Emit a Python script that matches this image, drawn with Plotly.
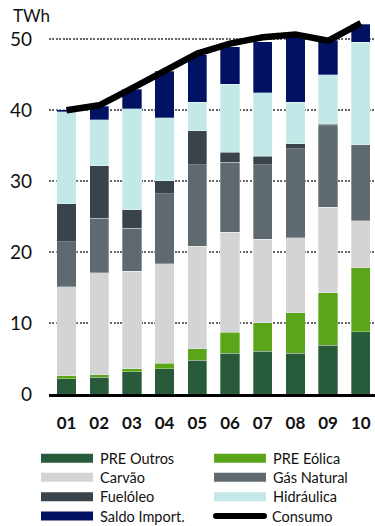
import plotly.graph_objects as go

# Electricity supply by source, TWh (stacked bottom to top)
years = ["01", "02", "03", "04", "05", "06", "07", "08", "09", "10"]
pre_outros = [2.15, 2.35, 3.15, 3.55, 4.75, 5.75, 6.0, 5.75, 6.85, 8.8]
pre_eolica = [0.45, 0.35, 0.4, 0.8, 1.65, 2.95, 4.05, 5.7, 7.45, 9.0]
carvao = [12.55, 14.4, 13.75, 14.0, 14.4, 14.1, 11.75, 10.55, 12.0, 6.6]
gas_natural = [6.3, 7.7, 6.1, 9.85, 11.5, 9.9, 10.5, 12.55, 11.5, 10.75]
fueloleo = [5.35, 7.4, 2.55, 1.9, 4.8, 1.4, 1.2, 0.7, 0.25, 0.0]
hidraulica = [13.0, 6.5, 14.25, 8.85, 4.0, 9.6, 9.0, 5.85, 6.95, 14.45]
saldo_import = [0.3, 1.9, 2.8, 6.55, 6.7, 5.25, 7.2, 9.75, 4.9, 2.55]
consumo = [40.0, 40.7, 43.1, 45.6, 48.0, 49.4, 50.3, 50.7, 49.8, 52.3]

labels = ["PRE Outros", "PRE Eólica", "Carvão", "Gás Natural",
          "Fuelóleo", "Hidráulica", "Saldo Import.", "Consumo"]
series = [pre_outros, pre_eolica, carvao, gas_natural,
          fueloleo, hidraulica, saldo_import]
colors = ["#285B39", "#5BA51A", "#D3D4D3", "#5E6970",
          "#38434B", "#C3E8E8", "#021263", "#000000"]

FONT = "Lato, 'Open Sans', sans-serif"
W, H = 375, 526
ML, MR, MT, MB = 49, 0, 11, 132

fig = go.Figure()
for name, vals, col in zip(labels[:-1], series, colors[:-1]):
    fig.add_trace(go.Bar(
        x=years, y=vals, name=name, marker_color=col,
        marker_line=dict(width=0.7, color="rgba(255,255,255,0.45)"),
        showlegend=False,
    ))
fig.add_trace(go.Scatter(
    x=years, y=consumo, name="Consumo", mode="lines",
    line=dict(color="black", width=6.5), showlegend=False,
))

# pixel -> paper coordinate helpers for the hand-built legend
pw, ph = W - ML - MR, H - MT - MB


def px(x):
    return (x - ML) / pw


def py(y):
    return (H - MB - y) / ph


shapes = []
annotations = []
col_x = [41, 214]
row_y = [458.3, 477.3, 496.7, 516.0]
sw_w, sw_h = 52, 9
for i, (name, col) in enumerate(zip(labels, colors)):
    c, r = i % 2, i // 2
    x0, yc = col_x[c], row_y[r]
    if name == "Consumo":
        x0, x1 = x0 - 1, x0 + sw_w + 1
        shapes.append(dict(type="line", xref="paper", yref="paper",
                           x0=px(x0 + 3), x1=px(x1 - 3), y0=py(yc), y1=py(yc),
                           line=dict(color=col, width=6)))
        for xe in (x0 + 3, x1 - 3):
            shapes.append(dict(type="circle", xref="paper", yref="paper",
                               x0=px(xe - 3), x1=px(xe + 3),
                               y0=py(yc + 3), y1=py(yc - 3),
                               fillcolor=col, line=dict(width=0)))
    else:
        shapes.append(dict(type="rect", xref="paper", yref="paper",
                           x0=px(x0), x1=px(x0 + sw_w),
                           y0=py(yc + sw_h / 2), y1=py(yc - sw_h / 2),
                           fillcolor=col, line=dict(width=0)))
    annotations.append(dict(text=name, xref="paper", yref="paper",
                            x=px(x0 + sw_w + 5), y=py(yc), xanchor="left",
                            yanchor="middle", showarrow=False,
                            font=dict(family=FONT, size=14.5, color="#111111")))

annotations.append(dict(text="TWh", xref="paper", yref="paper",
                        x=px(11), y=py(15.5), xanchor="left", yanchor="middle",
                        showarrow=False,
                        font=dict(family=FONT, size=17, color="#111111")))

fig.update_layout(
    width=W, height=H,
    margin=dict(l=ML, r=MR, t=MT, b=MB, pad=0),
    barmode="stack", bargap=0.41,
    plot_bgcolor="white", paper_bgcolor="white",
    font=dict(family=FONT, color="#111111"),
    shapes=shapes, annotations=annotations,
    xaxis=dict(
        type="category", range=[-0.535, 9.434],
        showgrid=False, showline=True, linecolor="black", linewidth=3,
        ticks="", ticklabelstandoff=12,
        tickfont=dict(family=FONT, size=17, color="#111111", weight="bold"),
    ),
    yaxis=dict(
        range=[0, 54], tickvals=[0, 10, 20, 30, 40, 50],
        showgrid=True, gridcolor="#666666", gridwidth=2.2, griddash="2px,1.4px",
        zeroline=False, showline=False, ticks="", ticklabelstandoff=16,
        tickfont=dict(family=FONT, size=19, color="#111111"),
    ),
)

fig.write_html("out.html")
